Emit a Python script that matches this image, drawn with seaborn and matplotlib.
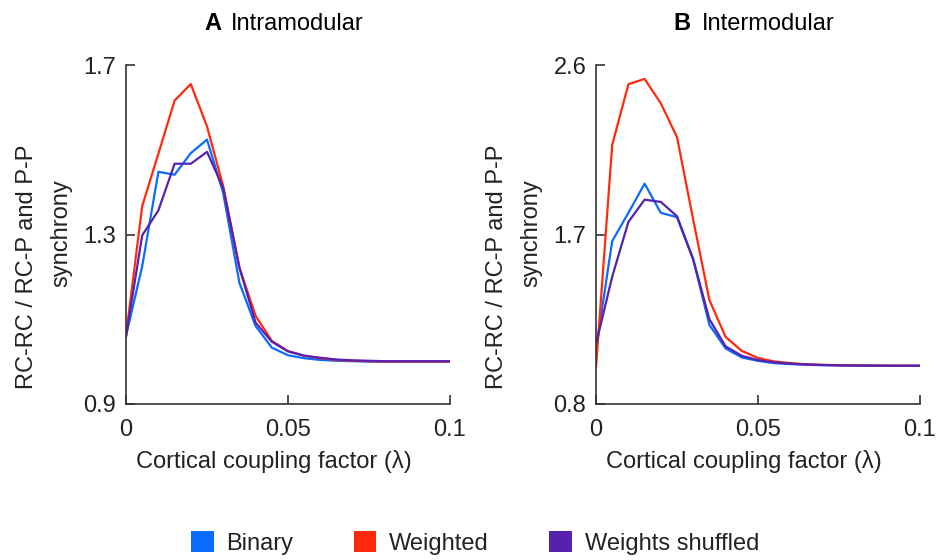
import numpy as np
import pandas as pd
import matplotlib
matplotlib.use("Agg")
import matplotlib.pyplot as plt
from matplotlib.patches import Patch
import seaborn as sns

# ---- data ----
lam = [0.000, 0.005, 0.010, 0.015, 0.020, 0.025, 0.030, 0.035, 0.040, 0.045,
       0.050, 0.055, 0.060, 0.065, 0.070, 0.075, 0.080, 0.085, 0.090, 0.095, 0.100]
series_names = ["Binary", "Weighted", "Weights shuffled"]

intra_binary   = [1.061, 1.225, 1.448, 1.441, 1.492, 1.524, 1.398, 1.186, 1.084, 1.033,
                  1.015, 1.008, 1.004, 1.002, 1.001, 1.000, 1.000, 1.000, 1.000, 1.000, 1.000]
intra_weighted = [1.061, 1.367, 1.491, 1.616, 1.655, 1.555, 1.414, 1.222, 1.108, 1.049,
                  1.025, 1.014, 1.008, 1.004, 1.002, 1.001, 1.000, 1.000, 1.000, 1.000, 1.000]
intra_shuffled = [1.059, 1.298, 1.357, 1.467, 1.467, 1.495, 1.410, 1.222, 1.092, 1.047,
                  1.024, 1.014, 1.009, 1.005, 1.003, 1.002, 1.001, 1.001, 1.001, 1.001, 1.001]

inter_binary   = [1.091, 1.665, 1.815, 1.970, 1.815, 1.792, 1.568, 1.220, 1.095, 1.047,
                  1.029, 1.017, 1.012, 1.008, 1.006, 1.005, 1.004, 1.003, 1.003, 1.003, 1.003]
inter_weighted = [0.994, 2.176, 2.498, 2.526, 2.397, 2.217, 1.779, 1.352, 1.156, 1.082,
                  1.044, 1.026, 1.017, 1.011, 1.008, 1.006, 1.005, 1.004, 1.004, 1.003, 1.003]
inter_shuffled = [1.118, 1.476, 1.767, 1.885, 1.873, 1.797, 1.568, 1.250, 1.106, 1.056,
                  1.033, 1.021, 1.014, 1.010, 1.007, 1.005, 1.004, 1.004, 1.003, 1.003, 1.003]

intra_yticks = [0.9, 1.3, 1.7]
inter_yticks = [0.8, 1.7, 2.6]
x_ticks = [0, 0.05, 0.1]
x_ticklabels = ["0", "0.05", "0.1"]
panel_letters = ["A", "B"]
panel_titles = ["Intramodular", "Intermodular"]
x_label = "Cortical coupling factor (\u03bb)"
y_label_1 = "RC-RC / RC-P and P-P"
y_label_2 = "synchrony"

colors = {"Binary": "#0a6cff", "Weighted": "#ff2a0d", "Weights shuffled": "#5522b0"}

def long_df(b, w, s):
    frames = []
    for name, vals in zip(series_names, [b, w, s]):
        frames.append(pd.DataFrame({"lam": lam, "value": vals, "series": name}))
    return pd.concat(frames, ignore_index=True)

df_intra = long_df(intra_binary, intra_weighted, intra_shuffled)
df_inter = long_df(inter_binary, inter_weighted, inter_shuffled)

# ---- style ----
sns.set_theme(style="ticks")
plt.rcParams["font.family"] = ["Liberation Sans", "DejaVu Sans"]
FS = 17
TXT = "#222222"

W, H = 948, 560
fig = plt.figure(figsize=(W / 100, H / 100), dpi=100)

def add_axes(left_px, right_px, top_px, bottom_px):
    return fig.add_axes([left_px / W, 1 - bottom_px / H,
                         (right_px - left_px) / W, (bottom_px - top_px) / H])

axA = add_axes(126, 450, 65, 404)
axB = add_axes(596, 920, 65, 404)

title_letter_x = [204, 673]
title_word_x = [231, 702]

panels = [(axA, df_intra, intra_yticks), (axB, df_inter, inter_yticks)]
for i, (ax, df, yt) in enumerate(panels):
    sns.lineplot(data=df, x="lam", y="value", hue="series", hue_order=series_names,
                 palette=colors, linewidth=1.6, ax=ax, legend=False)
    ax.set_xlim(0, 0.1)
    ax.set_ylim(yt[0], yt[-1])
    ax.set_xticks(x_ticks)
    ax.set_xticklabels(x_ticklabels)
    ax.set_yticks(yt)
    ax.set_yticklabels([f"{v:.1f}" for v in yt])
    ax.tick_params(direction="in", length=6.5, width=1.2, colors="#333333",
                   labelsize=FS, labelcolor=TXT)
    ax.tick_params(axis="x", pad=11)
    ax.tick_params(axis="y", pad=7)
    for side in ["top", "right"]:
        ax.spines[side].set_visible(False)
    for side in ["left", "bottom"]:
        ax.spines[side].set_linewidth(1.2)
        ax.spines[side].set_color("#333333")
    ax.set_xlabel(x_label, fontsize=FS, color=TXT)
    ax.xaxis.set_label_coords(0.455, -0.135)
    ax.set_ylabel("")
    # title: bold letter + regular word
    fig.text(title_letter_x[i] / W, 1 - 30 / H, panel_letters[i], ha="left",
             va="baseline", fontsize=FS, fontweight="bold", color="black")
    fig.text(title_word_x[i] / W, 1 - 30 / H, panel_titles[i], ha="left",
             va="baseline", fontsize=FS, color="black")
    # two-line y label
    x0 = ax.get_position().x0 * W
    fig.text((x0 - 99) / W, 1 - 267 / H, y_label_1, rotation=90, ha="center",
             va="center", fontsize=FS, color=TXT)
    fig.text((x0 - 65) / W, 1 - 233 / H, y_label_2, rotation=90, ha="center",
             va="center", fontsize=FS, color=TXT)

handles = [Patch(facecolor=colors[n], edgecolor="none", label=n) for n in series_names]
fig.legend(handles=handles, loc="center", bbox_to_anchor=(475 / W, 1 - 543 / H),
           ncol=3, frameon=False, fontsize=FS, handlelength=0.95, handleheight=0.95,
           handletextpad=0.55, columnspacing=2.55, labelcolor=TXT)

fig.savefig("out.png", dpi=100)
